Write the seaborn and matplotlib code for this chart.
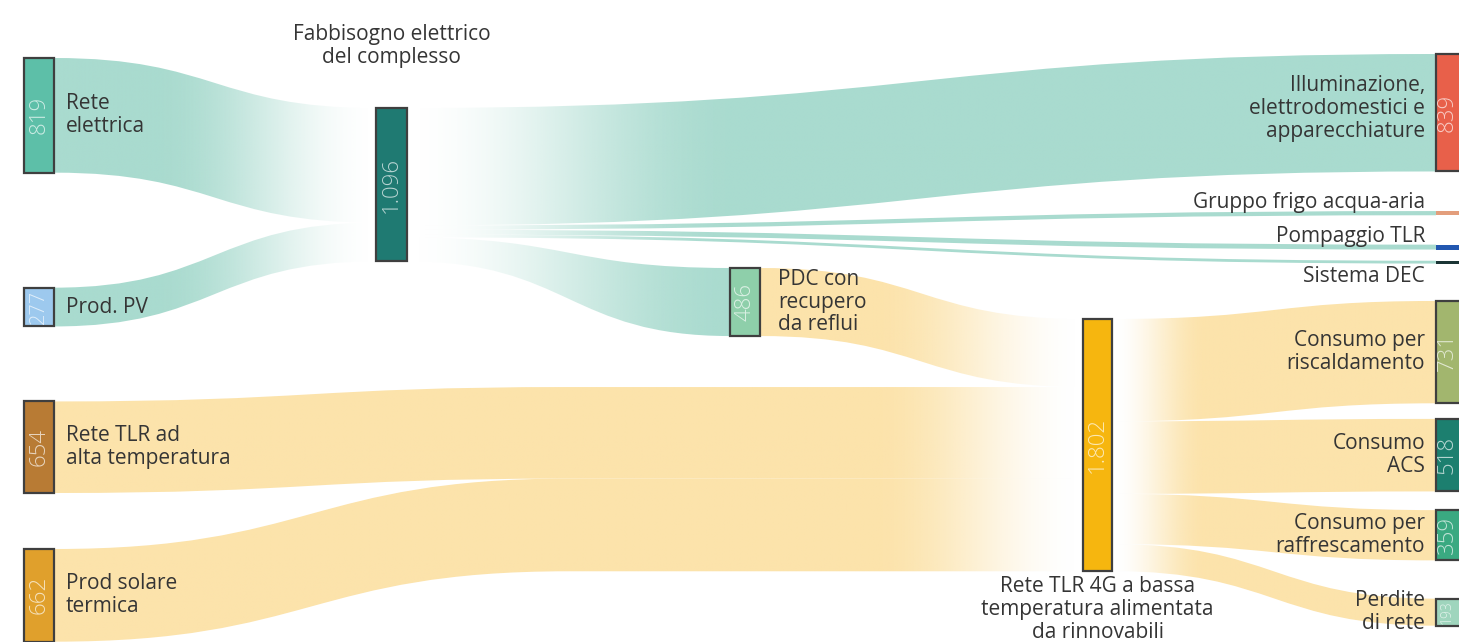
import numpy as np
import matplotlib
matplotlib.use("Agg")
import matplotlib.pyplot as plt
import matplotlib.colors as mcolors
from matplotlib.path import Path
from matplotlib.patches import PathPatch, Rectangle
import seaborn as sns

# ------------------------------------------------------------------ data
node_labels = [
    "Rete\nelettrica",                      # 0
    "Prod. PV",                             # 1
    "Rete TLR ad\nalta temperatura",        # 2
    "Prod solare\ntermica",                 # 3
    "Fabbisogno elettrico\ndel complesso",  # 4
    "PDC con\nrecupero\nda reflui",         # 5
    "Rete TLR 4G a bassa\ntemperatura alimentata\nda rinnovabili",  # 6
    "Illuminazione,\nelettrodomestici e\napparecchiature",          # 7
    "Gruppo frigo acqua-aria",              # 8
    "Pompaggio TLR",                        # 9
    "Sistema DEC",                          # 10
    "Consumo per\nriscaldamento",           # 11
    "Consumo\nACS",                         # 12
    "Consumo per\nraffrescamento",          # 13
    "Perdite\ndi rete",                     # 14
]

link_source = [0, 1, 4, 4, 4, 4, 4, 5, 2, 3, 6, 6, 6, 6]
link_target = [4, 4, 7, 8, 9, 10, 5, 6, 6, 6, 11, 12, 13, 14]
link_value = [819, 277, 839, 30, 35, 20, 172, 486, 654, 662, 731, 518, 359, 193]
# value carried at the target end (heat pump: electricity in -> heat out)
link_value_in = [819, 277, 839, 30, 35, 20, 486, 486, 654, 662, 731, 518, 359, 193]

# ------------------------------------------------------------------ style / layout
W, H = 1459, 642
SCALE = 0.14          # px per unit
COL_X = [24, 376, 730, 1083, 1436]
COL_W = [30, 31, 30, 29, 24.5]
node_col = [0, 0, 0, 0, 1, 2, 3, 4, 4, 4, 4, 4, 4, 4, 4]
# vertical padding (px) in front of each node inside its column
node_gap = [58, 115, 75, 56, 108, 268, 319, 54, 39.6, 29.4, 11.2, 37.4, 15.6, 18.7, 38.3]

node_colors = ["#5dbfa8", "#9dc9ee", "#b87b34", "#e0a02c", "#1f7a72", "#8ecfaa",
               "#f6b60f", "#e8604a", "#e39e7c", "#2257b0", "#1b3535", "#a2b66e",
               "#1c7f6f", "#3aa981", "#9fd5bd"]
TEAL = "#a9dbcf"
YELLOW = "#fce3ab"
link_color = [TEAL if s in (0, 1, 4) else YELLOW for s in link_source]
# links from the first column bend early (routed along the lower band)
link_bend = [1, 1, 1, 1, 1, 1, 1, 1, 0.5, 0.5, 1, 1, 1, 1]
# fade to white near hub nodes (px)
fade_in = {4: 220, 6: 210}
fade_out = {4: 330, 6: 95}
TEXT = "#353535"
FS = 15
VFS = 16

sns.set_theme(style="white")
plt.rcParams["font.family"] = ["Open Sans", "DejaVu Sans"]

fig = plt.figure(figsize=(W / 100, H / 100), dpi=100)
ax = fig.add_axes([0, 0, 1, 1])
ax.set_axis_off()

n_nodes = len(node_labels)
out_sum = np.zeros(n_nodes)
in_sum = np.zeros(n_nodes)
for s, t, v, vi in zip(link_source, link_target, link_value, link_value_in):
    out_sum[s] += v
    in_sum[t] += vi
node_value = np.maximum(out_sum, in_sum)
node_h = node_value * SCALE

# stack nodes in columns
node_top = np.zeros(n_nodes)
col_cursor = {}
for i in range(n_nodes):
    c = node_col[i]
    y = col_cursor.get(c, 0) + node_gap[i]
    node_top[i] = y
    col_cursor[c] = y + node_h[i]
node_x = np.array([COL_X[c] for c in node_col], dtype=float)
node_w = np.array([COL_W[c] for c in node_col], dtype=float)


def smooth(a):
    a = np.clip(a, 0, 1)
    return a * a * (3 - 2 * a)


out_off = node_top.copy()
in_off = node_top.copy()
for k, (s, t, v, vi) in enumerate(zip(link_source, link_target, link_value, link_value_in)):
    x0 = node_x[s] + node_w[s]
    x1 = node_x[t]
    y0t = out_off[s]; y0b = y0t + v * SCALE
    y1t = in_off[t]; y1b = y1t + vi * SCALE
    out_off[s] = y0b
    in_off[t] = y1b
    xb = x0 + link_bend[k] * (x1 - x0)
    xm = (x0 + xb) / 2
    verts = [(x0, y0t), (xm, y0t), (xm, y1t), (xb, y1t), (x1, y1t),
             (x1, y1b), (xb, y1b), (xm, y1b), (xm, y0b), (x0, y0b), (x0, y0t)]
    codes = [Path.MOVETO, Path.CURVE4, Path.CURVE4, Path.CURVE4, Path.LINETO,
             Path.LINETO, Path.LINETO, Path.CURVE4, Path.CURVE4, Path.CURVE4,
             Path.CLOSEPOLY]
    path = Path(verts, codes)
    patch = PathPatch(path, facecolor="none", edgecolor="none")
    ax.add_patch(patch)
    n = 400
    xs = np.linspace(x0, x1, n)
    alpha = np.ones(n)
    if s in fade_out:
        alpha = np.minimum(alpha, smooth((xs - x0) / fade_out[s]))
    if t in fade_in:
        alpha = np.minimum(alpha, smooth((x1 - xs) / fade_in[t]))
    rgba = np.zeros((1, n, 4))
    rgba[..., :3] = mcolors.to_rgb(link_color[k])
    rgba[..., 3] = alpha
    ymin = min(y0t, y1t) - 1
    ymax = max(y0b, y1b) + 1
    im = ax.imshow(rgba, extent=(x0, x1, ymax, ymin), aspect="auto",
                   interpolation="bilinear", zorder=1)
    im.set_clip_path(patch)

# nodes
for i in range(n_nodes):
    big = node_h[i] > 10
    ax.add_patch(Rectangle((node_x[i], node_top[i]), node_w[i], node_h[i],
                           facecolor=node_colors[i],
                           edgecolor="#3f3f3f" if big else node_colors[i],
                           linewidth=1.6 if big else 0, zorder=3))
    if big:
        txt = f"{int(node_value[i]):,}".replace(",", ".")
        rgb = np.array(mcolors.to_rgb(node_colors[i]))
        tc = rgb + (1 - rgb) * 0.68
        fs = min(VFS, node_h[i] * 0.37)
        visible_w = min(node_w[i], W - node_x[i])
        ax.text(node_x[i] + visible_w / 2, node_top[i] + node_h[i] / 2, txt,
                rotation=90, ha="center", va="center", color=tc,
                fontsize=fs, fontweight="light", zorder=4)

# labels
for i in range(n_nodes):
    c = node_col[i]
    cy = node_top[i] + node_h[i] / 2
    cx = node_x[i] + node_w[i] / 2
    lab = node_labels[i]
    kw = dict(color=TEXT, fontsize=FS, linespacing=1.12, zorder=5)
    if c == 0:
        ax.text(node_x[i] + node_w[i] + 12, cy, lab, ha="left", va="center", **kw)
    elif c == 1:
        ax.text(cx, node_top[i] - 40, lab, ha="center", va="bottom", **kw)
    elif c == 2:
        ax.text(node_x[i] + node_w[i] + 18, cy, lab, ha="left", va="center", **kw)
    elif c == 3:
        ax.text(cx, node_top[i] + node_h[i] + 5, lab, ha="center", va="top", **kw)
    else:
        shift = {7: -4, 8: -11, 9: -11, 10: 14}.get(i, 0)
        ax.text(node_x[i] - 11, cy + shift, lab, ha="right", va="center", **kw)

ax.set_xlim(0, W)
ax.set_ylim(H, 0)
fig.savefig("out.png", dpi=100, facecolor="white")
